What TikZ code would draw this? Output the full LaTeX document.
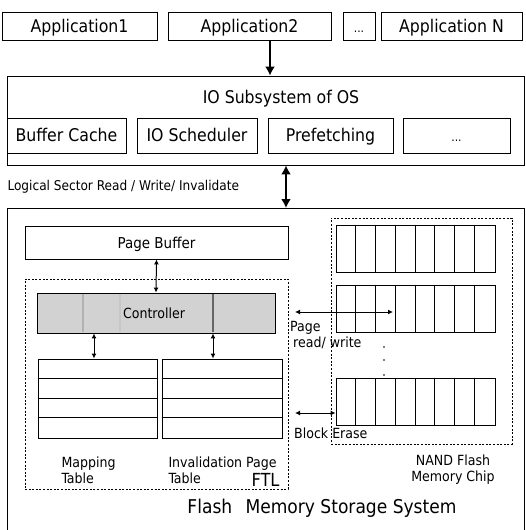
\documentclass[tikz,border=0pt]{standalone}
\usepackage{fontspec}
\setmainfont{DejaVu Sans Condensed}
\usetikzlibrary{arrows.meta, positioning, calc}

\tikzset{
  box/.style={draw, line width=0.9pt, inner sep=0pt},
  dbox/.style={draw, line width=0.9pt, dash pattern=on 2pt off 1.6pt, inner sep=0pt},
  bigarrow/.style={-{Latex[length=9pt,width=10pt]}, line width=2.2pt},
  dblarrow/.style={{Latex[length=9pt,width=10pt]}-{Latex[length=9pt,width=10pt]}, line width=2.2pt},
  smallarrow/.style={{Latex[length=5pt,width=5pt]}-{Latex[length=5pt,width=5pt]}, line width=1pt},
  bigtxt/.style={font=\fontsize{17.5}{20}\selectfont, text height=12.8pt, text depth=0pt},
  midtxt/.style={font=\fontsize{15}{17}\selectfont, text height=11pt, text depth=0pt},
  smalltxt/.style={font=\fontsize{14}{16}\selectfont},
}

\begin{document}
\begin{tikzpicture}[x=1pt,y=-1pt]

\useasboundingbox (0,0) rectangle (525,530);

% applications
\node[box,bigtxt,minimum width=155,minimum height=28] (app1) at (79.5,26) {Application1};
\node[box,bigtxt,minimum width=163,minimum height=28] (app2) at (249.5,26) {Application2};
\node[box,bigtxt,minimum width=32,minimum height=28] (appdots) at (359,26) {\fontsize{12}{14}\selectfont ...};
\node[box,bigtxt,minimum width=141,minimum height=28] (appN) at (451.5,26) {Application N};

% IO subsystem
\node[box,minimum width=517,minimum height=89] (io) at (265.5,120.5) {};
\node[bigtxt] (iotitle) at (281,97) {IO Subsystem of OS};
\node[box,bigtxt,minimum width=119,minimum height=35] (bcache) at (66.5,135.5) {Buffer Cache};
\node[box,bigtxt,minimum width=120,minimum height=35] (sched) at (197,135.5) {IO Scheduler};
\node[box,bigtxt,minimum width=125,minimum height=35] (prefetch) at (330.5,135.5) {Prefetching};
\node[box,bigtxt,minimum width=107,minimum height=35] (iodots) at (456.5,135.5) {\fontsize{12}{14}\selectfont ...};

\draw[bigarrow] (app2.south -| 270,0) -- (io.north -| 270,0);

% flash storage system
\draw[line width=0.9pt] (7,536) -- (7,208) -- (524,208) -- (524,536);
\coordinate (flashtop) at (286,208);
\node[font=\fontsize{13.5}{16}\selectfont,anchor=west] (lsr) at (4,187) {Logical Sector Read / Write/ Invalidate};
\draw[dblarrow] (io.south -| flashtop) -- (flashtop);

\node[box,midtxt,minimum width=263,minimum height=33] (pbuf) at (156.5,242.5) {Page Buffer};
\node[dbox,minimum width=263,minimum height=210] (ftl) at (156.5,384) {};

\node[box,fill=gray!35,minimum width=238,minimum height=40] (ctrl) at (156,313) {};
\draw[gray!60,line width=2pt] (83,294) -- (83,332);
\draw[gray!45,line width=1.5pt] (120,294) -- (120,332);
\draw[gray!80!black,line width=2.5pt] (213,294) -- (213,332);
\node[font=\fontsize{14}{16}\selectfont] (ctrltxt) at (154,313) {Controller};

\node[box,minimum width=119,minimum height=79] (maptab) at (97.5,398.5) {};
\node[box,minimum width=120,minimum height=79] (invtab) at (222,398.5) {};
\foreach \j in {1,2,3} {
  \draw[line width=0.9pt] ($(maptab.north west)+(0,\j*19.75)$) -- ++(119,0);
  \draw[line width=0.9pt] ($(invtab.north west)+(0,\j*19.75)$) -- ++(120,0);
}

\draw[smallarrow] (pbuf.south) -- (ctrl.north);
\draw[smallarrow] (ctrl.south -| 94,0) -- (maptab.north -| 94,0);
\draw[smallarrow] (ctrl.south -| 213,0) -- (invtab.north -| 213,0);

\node[smalltxt,anchor=west,align=left] (maplbl) at (58,470) {Mapping\\Table};
\node[smalltxt,anchor=west,align=left] (invlbl) at (165,470) {Invalidation Page\\Table};
\node[font=\fontsize{18}{20}\selectfont,anchor=east] (ftllbl) at (283,480) {FTL};

% NAND flash chip
\node[dbox,minimum width=181,minimum height=226] (nand) at (421.5,331) {};
\foreach \k/\yc in {1/248.5,2/308.5,3/402} {
  \node[box,minimum width=159,minimum height=47] (blk\k) at (415.5,\yc) {};
  \foreach \i in {1,...,7}
    \draw[line width=0.9pt] ($(blk\k.north west)+(\i*19.875,0)$) -- ($(blk\k.south west)+(\i*19.875,0)$);
}
\foreach \yd in {347,360,375} \fill (384,\yd) circle (0.8);

\coordinate (prw1) at (295,312);
\coordinate (prw2) at (393,312);
\draw[smallarrow] (prw1) -- (prw2);
\node[smalltxt,anchor=west,align=left,inner sep=0pt] (prwlbl) at (290,335) {Page\\\hspace*{3pt}read/ write};

\coordinate (be) at (295,413);
\draw[smallarrow] (be) -- (be -| blk3.west);
\node[smalltxt,anchor=west,inner sep=0pt] (belbl) at (294,433) {Block Erase};

\node[smalltxt,align=center] (nandlbl) at (453,470) {NAND Flash\\Memory Chip};

\node[font=\fontsize{19}{22}\selectfont] (flashlbl) at (322,508) {Flash\hspace{0.7em}Memory Storage System};

\end{tikzpicture}
\end{document}
